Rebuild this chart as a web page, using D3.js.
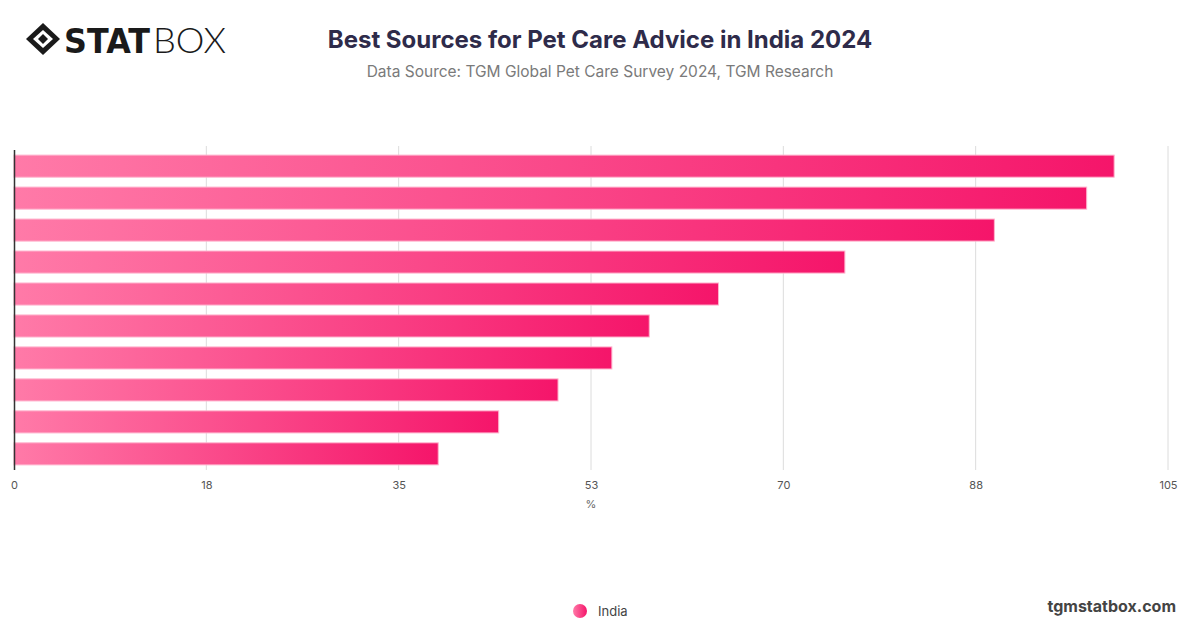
<!DOCTYPE html>
<html lang="en">
<head>
    <meta charset="UTF-8">
    <title>Best Sources for Pet Care Advice in India 2024</title>
    <script src="https://d3js.org/d3.v7.min.js"></script>
    <style>
        body {
            margin: 0;
            background: #fff;
            font-family: Inter, "Noto Sans", Arial, sans-serif;
        }
        #chart {
            width: 1200px;
            height: 628px;
        }
    </style>
</head>
<body>
    <div id="chart"></div>

    <script>
        // Data (bars top to bottom, labels are hidden in the original)
        const categories = ["Source 1", "Source 2", "Source 3", "Source 4", "Source 5",
                            "Source 6", "Source 7", "Source 8", "Source 9", "Source 10"];
        const values = [100.1, 97.6, 89.2, 75.6, 64.1, 57.8, 54.4, 49.5, 44.1, 38.6];
        const tickValues = [0, 17.5, 35, 52.5, 70, 87.5, 105];
        const tickLabels = ["0", "18", "35", "53", "70", "88", "105"];
        const seriesName = "India";

        const width = 1200, height = 628;
        const margin = { left: 14, right: 32, top: 150, bottom: 158 };

        const svg = d3.select("#chart")
            .append("svg")
            .attr("width", width)
            .attr("height", height);

        // Gradient used by bars and the legend dot
        const defs = svg.append("defs");
        const grad = defs.append("linearGradient")
            .attr("id", "barGrad")
            .attr("x1", "0%").attr("x2", "100%")
            .attr("y1", "0%").attr("y2", "0%");
        grad.append("stop").attr("offset", "0%").attr("stop-color", "#ff7aa8");
        grad.append("stop").attr("offset", "100%").attr("stop-color", "#f5156a");

        const x = d3.scaleLinear()
            .domain([0, 105])
            .range([margin.left, width - margin.right]);

        const y = d3.scaleBand()
            .domain(categories)
            .range([margin.top, height - margin.bottom])
            .paddingInner(0.31)
            .paddingOuter(0.16);

        // Vertical grid lines
        svg.append("g")
            .selectAll("line")
            .data(tickValues.slice(1))
            .enter()
            .append("line")
            .attr("x1", d => x(d))
            .attr("x2", d => x(d))
            .attr("y1", margin.top - 4)
            .attr("y2", height - margin.bottom)
            .style("stroke", "#dcdcdc")
            .style("stroke-width", 1);

        // Bars
        svg.append("g")
            .selectAll("rect")
            .data(values)
            .enter()
            .append("rect")
            .attr("x", x(0))
            .attr("y", (d, i) => y(categories[i]))
            .attr("width", d => x(d) - x(0))
            .attr("height", y.bandwidth())
            .style("fill", "url(#barGrad)")
            .style("stroke", "#ffb3cd")
            .style("stroke-width", 1);

        // Left axis line
        svg.append("line")
            .attr("x1", x(0) + 0.5)
            .attr("x2", x(0) + 0.5)
            .attr("y1", margin.top)
            .attr("y2", height - margin.bottom)
            .style("stroke", "#333")
            .style("stroke-width", 1.5);

        // Bottom axis (labels only)
        const xAxis = d3.axisBottom(x)
            .tickValues(tickValues)
            .tickFormat((d, i) => tickLabels[i])
            .tickSize(0)
            .tickPadding(8);

        const axisG = svg.append("g")
            .attr("transform", `translate(0,${height - margin.bottom + 3})`)
            .call(xAxis);
        axisG.select(".domain").remove();
        axisG.selectAll("text")
            .style("font-family", "Inter, 'Noto Sans', Arial, sans-serif")
            .style("font-size", "11px")
            .style("fill", "#555");

        svg.append("text")
            .attr("x", x(52.5))
            .attr("y", 508)
            .attr("text-anchor", "middle")
            .style("font-size", "11px")
            .style("fill", "#666")
            .text("%");

        // Title and subtitle
        svg.append("text")
            .attr("x", 600)
            .attr("y", 48)
            .attr("text-anchor", "middle")
            .style("font-size", "24px")
            .style("font-weight", "700")
            .style("fill", "#2e2b4a")
            .text("Best Sources for Pet Care Advice in India 2024");

        svg.append("text")
            .attr("x", 600)
            .attr("y", 77)
            .attr("text-anchor", "middle")
            .style("font-size", "15.5px")
            .style("fill", "#7a7a7a")
            .text("Data Source: TGM Global Pet Care Survey 2024, TGM Research");

        // STATBOX logo
        const logo = svg.append("g").attr("transform", "translate(26,23)");
        logo.append("path")
            .attr("d", "M17,0 L34,16 L17,32 L0,16 Z")
            .style("fill", "#1a1a1a");
        logo.append("path")
            .attr("d", "M17,7 L27,16 L17,25 L7,16 Z")
            .style("fill", "#fff");
        logo.append("path")
            .attr("d", "M17,11 L22,16 L17,21 L12,16 Z")
            .style("fill", "#1a1a1a");
        logo.append("text")
            .attr("x", 38)
            .attr("y", 30)
            .attr("textLength", 86)
            .attr("lengthAdjust", "spacingAndGlyphs")
            .style("font-family", "'DejaVu Sans', Arial, sans-serif")
            .style("font-size", "34px")
            .style("font-weight", "900")
            .style("fill", "#1a1a1a")
            .text("STAT");
        logo.append("text")
            .attr("x", 127)
            .attr("y", 30)
            .attr("textLength", 73)
            .attr("lengthAdjust", "spacingAndGlyphs")
            .style("font-family", "Lato, Arial, sans-serif")
            .style("font-size", "35px")
            .style("font-weight", "300")
            .style("fill", "#1a1a1a")
            .text("BOX");

        // Legend
        svg.append("circle")
            .attr("cx", 580)
            .attr("cy", 611)
            .attr("r", 7)
            .style("fill", "url(#barGrad)");
        svg.append("text")
            .attr("x", 598)
            .attr("y", 616)
            .style("font-size", "13px")
            .style("fill", "#444")
            .text(seriesName);

        // Footer
        svg.append("text")
            .attr("x", 1176)
            .attr("y", 612)
            .attr("text-anchor", "end")
            .style("font-size", "16px")
            .style("font-weight", "700")
            .style("fill", "#444")
            .text("tgmstatbox.com");
    </script>
</body>
</html>
